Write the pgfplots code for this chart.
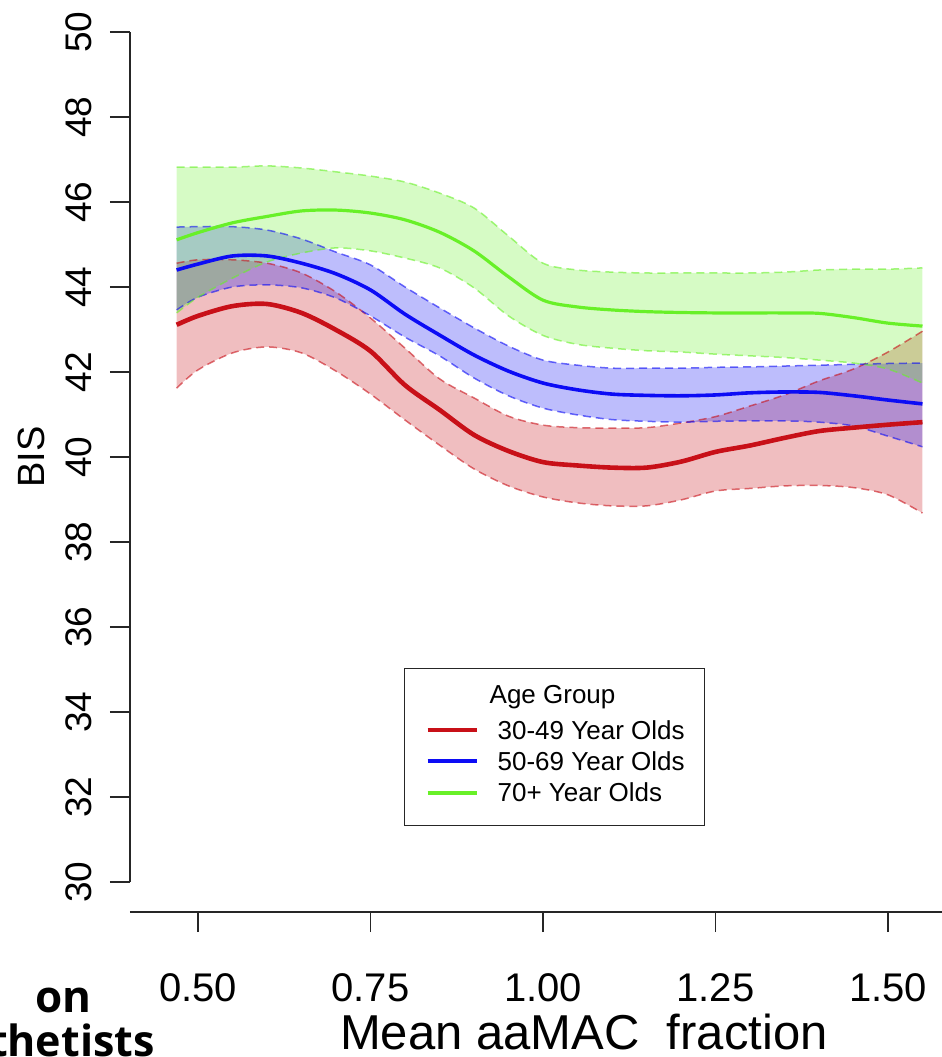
\documentclass[border=0pt]{standalone}
\usepackage{fontspec}
\setmainfont{Liberation Sans}
\newfontfamily\pagefont{Open Sans}
\usepackage{pgfplots}
\usepackage{pgfplotstable}
\pgfplotsset{compat=1.18}
\usepgfplotslibrary{fillbetween}

\definecolor{redline}{RGB}{200,16,24}
\definecolor{blueline}{RGB}{12,12,245}
\definecolor{greenline}{RGB}{104,240,40}

% x, lower band, fitted mean, upper band
\pgfplotstableread{
x lo mid hi
0.469 41.62 43.11 44.56
0.50 42.05 43.32 44.64
0.55 42.45 43.55 44.64
0.60 42.59 43.60 44.56
0.65 42.45 43.39 44.33
0.70 42.02 42.99 43.88
0.75 41.48 42.49 43.27
0.80 40.87 41.69 42.56
0.85 40.28 41.11 41.84
0.90 39.72 40.52 41.39
0.95 39.32 40.14 40.96
1.00 39.06 39.88 40.75
1.05 38.92 39.80 40.69
1.10 38.85 39.75 40.68
1.15 38.85 39.75 40.69
1.20 38.99 39.89 40.80
1.25 39.20 40.12 40.95
1.30 39.26 40.27 41.20
1.35 39.32 40.45 41.46
1.40 39.33 40.61 41.79
1.45 39.28 40.69 42.07
1.50 39.11 40.76 42.47
1.55 38.68 40.82 42.96
}\redtab

\pgfplotstableread{
x lo mid hi
0.469 43.46 44.40 45.41
0.50 43.76 44.54 45.42
0.55 44.00 44.73 45.42
0.60 44.05 44.73 45.34
0.65 43.98 44.56 45.13
0.70 43.74 44.31 44.82
0.75 43.32 43.93 44.52
0.80 42.82 43.36 44.00
0.85 42.38 42.87 43.51
0.90 41.86 42.40 43.04
0.95 41.44 42.02 42.61
1.00 41.15 41.74 42.28
1.05 40.99 41.58 42.16
1.10 40.88 41.48 42.09
1.15 40.84 41.45 42.09
1.20 40.82 41.44 42.09
1.25 40.84 41.46 42.11
1.30 40.85 41.51 42.12
1.35 40.85 41.53 42.14
1.40 40.82 41.52 42.16
1.45 40.73 41.44 42.18
1.50 40.49 41.34 42.20
1.55 40.24 41.25 42.21
}\bluetab

\pgfplotstableread{
x lo mid hi
0.469 43.39 45.11 46.82
0.50 43.76 45.28 46.82
0.55 44.21 45.51 46.82
0.60 44.59 45.66 46.85
0.65 44.80 45.79 46.80
0.70 44.92 45.81 46.71
0.75 44.85 45.74 46.61
0.80 44.68 45.58 46.47
0.85 44.45 45.29 46.21
0.90 43.98 44.85 45.86
0.95 43.32 44.24 45.20
1.00 42.86 43.69 44.56
1.05 42.65 43.53 44.40
1.10 42.56 43.46 44.35
1.15 42.50 43.42 44.33
1.20 42.47 43.40 44.33
1.25 42.42 43.39 44.33
1.30 42.38 43.39 44.33
1.35 42.34 43.39 44.35
1.40 42.28 43.38 44.40
1.45 42.21 43.28 44.42
1.50 42.07 43.15 44.42
1.55 41.74 43.08 44.45
}\greentab

\begin{document}
\begin{tikzpicture}
\begin{axis}[
  name=ax,
  scale only axis, width=406pt, height=425pt,
  xmin=0.4014, xmax=1.5783, ymin=30, ymax=50,
  axis lines*=left,
  axis x line shift=15pt,
  axis line style={line width=0.75pt, black!85},
  tick align=outside, major tick length=10pt,
  tick style={line width=0.75pt, black!85},
  xtick={0.5,0.75,1,1.25,1.5},
  xticklabels={0.50,0.75,1.00,1.25,1.50},
  ytick={30,32,...,50},
  /pgf/number format/assume math mode=true,
  xticklabel shift=17.5pt,
  yticklabel shift=5.5pt,
  xticklabel style={font=\fontsize{20}{24}\selectfont},
  yticklabel style={font=\fontsize{18.5}{22}\selectfont, rotate=90, anchor=south},
  xlabel={Mean aaMAC\ \ fraction},
  xlabel style={font=\fontsize{24.5}{29}\selectfont,
    at={(axis description cs:0.559,-0.1965)}, anchor=base, inner sep=0pt},
  ylabel={BIS},
  ylabel style={font=\fontsize{19}{23}\selectfont,
    at={(axis description cs:-0.1047,0.5)}, anchor=base, inner sep=0pt},
  legend style={at={(axis cs:0.7985,35.035)}, anchor=north west,
    draw=black!85, line width=0.7pt, fill=white,
    inner xsep=6.5pt, inner ysep=10.9pt, row sep=5.15pt,
    font=\fontsize{13}{15.5}\selectfont,
    nodes={inner sep=0pt, text height=9.5pt, text depth=0.1pt},
    cells={anchor=base west}},
  legend image code/.code={\draw[#1] (5pt,4.5pt) -- (29.5pt,4.5pt); \path (39pt,0pt);},
  band/.style={forget plot, smooth, line width=0.75pt, dash pattern=on 4pt off 2.5pt},
]
% bands: red, then blue, then green
\addplot[band, name path=rhi, draw=redline, draw opacity=0.6] table[x=x,y=hi]{\redtab};
\addplot[band, name path=rlo, draw=redline, draw opacity=0.6] table[x=x,y=lo]{\redtab};
\addplot[forget plot, fill=redline, fill opacity=0.27, draw=none] fill between[of=rhi and rlo];

\addplot[band, name path=bhi, draw=blueline, draw opacity=0.6] table[x=x,y=hi]{\bluetab};
\addplot[band, name path=blo, draw=blueline, draw opacity=0.6] table[x=x,y=lo]{\bluetab};
\addplot[forget plot, fill=blueline, fill opacity=0.27, draw=none] fill between[of=bhi and blo];

\addplot[band, name path=ghi, draw=greenline, draw opacity=0.6] table[x=x,y=hi]{\greentab};
\addplot[band, name path=glo, draw=greenline, draw opacity=0.6] table[x=x,y=lo]{\greentab};
\addplot[forget plot, fill=greenline, fill opacity=0.27, draw=none] fill between[of=ghi and glo];

% fitted means
\addplot[forget plot, smooth, redline, line width=2.3pt] table[x=x,y=mid]{\redtab};
\addplot[forget plot, smooth, blueline, line width=1.8pt] table[x=x,y=mid]{\bluetab};
\addplot[forget plot, smooth, greenline, line width=1.6pt] table[x=x,y=mid]{\greentab};

\addlegendimage{empty legend}
\addlegendentry{\hspace*{-4pt}\raisebox{3.25pt}{Age Group}}
\addlegendimage{redline, line width=2pt}
\addlegendentry{30-49 Year Olds\hspace*{3.5pt}}
\addlegendimage{blueline, line width=2pt}
\addlegendentry{50-69 Year Olds\hspace*{3.5pt}}
\addlegendimage{greenline, line width=2pt}
\addlegendentry{70+ Year Olds}
\end{axis}
% cut-off caption text of the surrounding page
\node[anchor=base west, inner sep=0pt, font=\pagefont\bfseries\fontsize{22}{26}\selectfont]
  at ([shift={(-47.5pt,-65.5pt)}]ax.south west) {on};
\node[anchor=base east, inner sep=0pt, font=\pagefont\bfseries\fontsize{21.5}{26}\selectfont]
  at ([shift={(12.5pt,-87pt)}]ax.south west) {thetists};
\pgfresetboundingbox
\useasboundingbox ([shift={(-65pt,-87.5pt)}]ax.south west) rectangle ([shift={(406pt,441pt)}]ax.south west);
\end{tikzpicture}
\end{document}
